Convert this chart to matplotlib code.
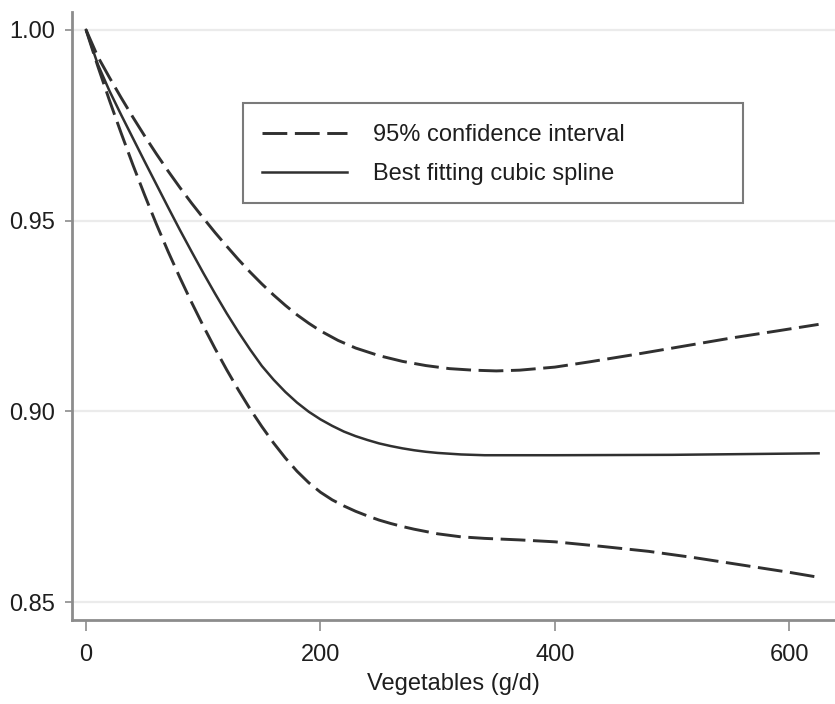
import matplotlib.pyplot as plt
from matplotlib import font_manager
from matplotlib.patches import Rectangle

# Vegetable intake (g/d) and relative risk from the fitted cubic spline
veg_fit = [0, 10, 20, 30, 40, 50, 60, 70, 80, 90, 100, 110, 120, 130, 140,
           150, 160, 170, 180, 190, 200, 210, 220, 230, 240, 250, 260, 270,
           280, 290, 300, 320, 340, 400, 500, 625]
rr_fit = [1.0000, 0.9910, 0.9840, 0.9777, 0.9716, 0.9655, 0.9595, 0.9535,
          0.9476, 0.9419, 0.9363, 0.9309, 0.9257, 0.9208, 0.9162, 0.9119,
          0.9083, 0.9051, 0.9023, 0.8999, 0.8979, 0.8962, 0.8947, 0.8935,
          0.8925, 0.8916, 0.8909, 0.8903, 0.8898, 0.8894, 0.8891, 0.8887,
          0.8885, 0.8885, 0.8886, 0.8890]

# Upper 95% confidence bound
veg_upper = [0, 10, 20, 30, 40, 50, 60, 70, 80, 90, 100, 110, 120, 130, 140,
             150, 160, 170, 180, 190, 200, 215, 230, 250, 270, 290, 310, 330,
             350, 370, 400, 430, 470, 510, 550, 590, 625]
rr_upper = [1.0000, 0.9930, 0.9875, 0.9822, 0.9771, 0.9722, 0.9675, 0.9630,
            0.9587, 0.9546, 0.9507, 0.9469, 0.9433, 0.9398, 0.9365, 0.9334,
            0.9305, 0.9278, 0.9253, 0.9231, 0.9211, 0.9186, 0.9166, 0.9146,
            0.9131, 0.9120, 0.9112, 0.9108, 0.9106, 0.9108, 0.9116, 0.9130,
            0.9150, 0.9171, 0.9192, 0.9211, 0.9228]

# Lower 95% confidence bound
veg_lower = [0, 10, 20, 30, 40, 50, 60, 70, 80, 90, 100, 110, 120, 130, 140,
             150, 160, 170, 180, 190, 200, 210, 220, 230, 240, 250, 260, 270,
             280, 300, 320, 340, 370, 400, 440, 480, 520, 560, 600, 625]
rr_lower = [1.0000, 0.9905, 0.9815, 0.9729, 0.9646, 0.9567, 0.9491, 0.9419,
            0.9351, 0.9286, 0.9224, 0.9165, 0.9109, 0.9056, 0.9006, 0.8960,
            0.8917, 0.8878, 0.8843, 0.8813, 0.8788, 0.8768, 0.8752, 0.8738,
            0.8726, 0.8715, 0.8706, 0.8698, 0.8691, 0.8679, 0.8671, 0.8667,
            0.8663, 0.8658, 0.8646, 0.8633, 0.8616, 0.8597, 0.8578, 0.8565]

x_ticks = [0, 200, 400, 600]
y_ticks = [0.85, 0.90, 0.95, 1.00]

# narrow sans if it is available, plain Liberation Sans otherwise
installed = {f.name for f in font_manager.fontManager.ttflist}
if 'Liberation Sans Narrow' in installed:
    base_font, fs = 'Liberation Sans Narrow', 20
else:
    base_font, fs = 'Liberation Sans', 17
plt.rcParams['font.family'] = [base_font, 'DejaVu Sans']

fig = plt.figure(figsize=(8.35, 7.04), dpi=100)
ax = fig.add_axes([0.0862, 0.1193, 0.9138, 0.8637])

line_col = '#303030'
text_col = '#1e1e1e'
dash = (0, (8.5, 2.6))

ax.plot(veg_upper, rr_upper, color=line_col, lw=2.1, linestyle=dash,
        label='95% confidence interval')
ax.plot(veg_fit, rr_fit, color=line_col, lw=1.8, label='Best fitting cubic spline')
ax.plot(veg_lower, rr_lower, color=line_col, lw=2.1, linestyle=dash)

# light horizontal grid at each y tick
for yv in y_ticks:
    ax.axhline(yv, color='#ebebeb', lw=1.6, zorder=0)

ax.set_xlim(-12, 639)
ax.set_ylim(0.8453, 1.0047)
ax.set_xticks(x_ticks)
ax.set_yticks(y_ticks)
ax.set_yticklabels([f'{v:.2f}' for v in y_ticks])

for side in ['top', 'right']:
    ax.spines[side].set_visible(False)
for side in ['left', 'bottom']:
    ax.spines[side].set_color('#8c8c8c')
    ax.spines[side].set_linewidth(2)

ax.tick_params(axis='y', length=5, width=1.2, color='#8c8c8c', pad=7,
               labelsize=fs, labelcolor=text_col)
ax.tick_params(axis='x', length=8, width=1.2, color='#8c8c8c', pad=9,
               labelsize=fs, labelcolor=text_col)

ax.set_xlabel('Vegetables (g/d)', fontsize=fs, color=text_col, labelpad=5)

# legend entries without a frame, box drawn separately
leg = ax.legend(loc='upper left', bbox_to_anchor=(262 / 835, 1 - 124 / 704),
                bbox_transform=fig.transFigure, fontsize=fs, frameon=False,
                handlelength=3.6, handletextpad=1.1, borderpad=0,
                labelspacing=0.72, borderaxespad=0)
for txt in leg.get_texts():
    txt.set_color(text_col)

fig.patches.append(Rectangle((243 / 835, 1 - 203 / 704), 500 / 835, 100 / 704,
                             transform=fig.transFigure, fill=False,
                             edgecolor='#7a7a7a', lw=1.5))

fig.savefig('out.png', dpi=100)
